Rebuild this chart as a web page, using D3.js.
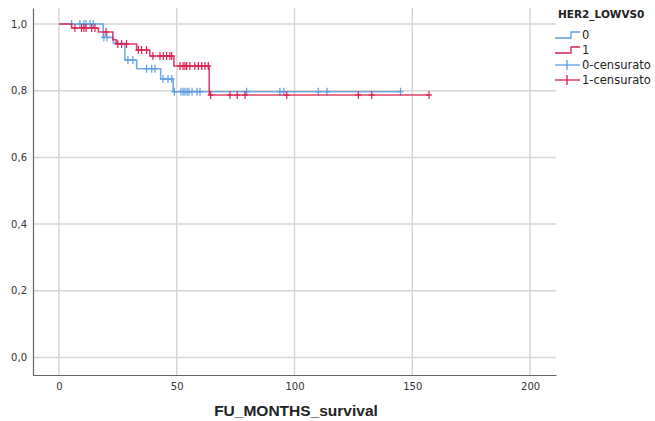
<!DOCTYPE html>
<html>
<head>
<meta charset="utf-8">
<script src="https://cdn.jsdelivr.net/npm/d3@7"></script>
<style>
  html, body { margin: 0; padding: 0; background: #fff; }
  svg { display: block; }
</style>
</head>
<body>
<svg id="chart" width="655" height="421"></svg>
<script>
// Kaplan–Meier survival by HER2_LOWVS0 group
const groups = ["0", "1"];
const censorLabels = ["0-censurato", "1-censurato"];

// Group 0: event times and survival after each step
const times0 = [0, 18.8, 23.1, 28.0, 33.0, 43.2, 48.5];
const surv0  = [1.0, 0.960, 0.942, 0.892, 0.866, 0.835, 0.797];
const end0 = 145.0;
const censor0 = [5.4, 8.9, 10.6, 11.5, 13.2, 14.6, 19.1, 20.4, 29.3, 31.4,
  37.2, 39.4, 40.8, 44.2, 46.3, 47.9, 49.0, 51.8, 52.7, 53.5, 54.4, 55.2,
  56.5, 58.6, 59.9, 79.7, 93.8, 95.5, 110.1, 113.8, 145.0];

// Group 1
const times1 = [0, 5.4, 16.8, 22.9, 24.3, 33.0, 38.6, 48.8, 63.8];
const surv1  = [1.0, 0.988, 0.976, 0.953, 0.940, 0.922, 0.904, 0.874, 0.787];
const end1 = 157.1;
const censor1 = [6.8, 9.6, 10.6, 11.5, 13.9, 15.3, 20.0, 25.0, 26.6, 28.7,
  33.7, 35.1, 37.2, 39.9, 42.9, 44.3, 45.7, 47.1, 47.9, 51.4, 52.7, 53.5,
  54.2, 55.6, 57.7, 59.2, 60.6, 62.0, 63.4, 64.4, 72.6, 75.7, 79.0, 96.7,
  127.1, 132.8, 157.1];

const xTicks = [0, 50, 100, 150, 200];
const yTicks = [0, 0.2, 0.4, 0.6, 0.8, 1.0];

const colors = ["#5b9de3", "#d9204e"];

const svg = d3.select("#chart");
const x = d3.scaleLinear().domain([-11, 211]).range([33, 556]);
const y = d3.scaleLinear().domain([-0.0525, 1.048]).range([375, 8]);

const fmt = d => d.toFixed(1).replace(".", ",");
const font = "'DejaVu Sans', Verdana, sans-serif";

// grid
const grid = svg.append("g").attr("stroke", "#d6d6d6").attr("stroke-width", 1.5);
grid.selectAll("line.v").data(xTicks).join("line")
  .attr("x1", d => x(d)).attr("x2", d => x(d))
  .attr("y1", y.range()[1]).attr("y2", y.range()[0]);
grid.selectAll("line.h").data(yTicks).join("line")
  .attr("x1", x.range()[0]).attr("x2", x.range()[1])
  .attr("y1", d => y(d)).attr("y2", d => y(d));

// axes
const xAxis = d3.axisBottom(x).tickValues(xTicks).tickSize(0).tickPadding(8).tickFormat(d3.format("d"));
const yAxis = d3.axisLeft(y).tickValues(yTicks).tickSize(0).tickPadding(6).tickFormat(fmt);
const gx = svg.append("g").attr("transform", "translate(0,375)").call(xAxis);
const gy = svg.append("g").attr("transform", "translate(33,0)").call(yAxis);
[gx, gy].forEach(g => {
  g.select(".domain").attr("stroke", "#666").attr("stroke-width", 1.2);
  g.selectAll("text").attr("font-family", font).attr("font-size", 10).attr("fill", "#333");
});

svg.append("text")
  .attr("x", 296).attr("y", 416)
  .attr("text-anchor", "middle")
  .attr("font-family", "'Liberation Sans', Arial, sans-serif").attr("font-size", 15.5).attr("font-weight", "bold")
  .attr("fill", "#222")
  .text("FU_MONTHS_survival");

// step functions
function survAt(times, surv, t) {
  let s = surv[0];
  for (let i = 0; i < times.length; i++) if (times[i] <= t) s = surv[i];
  return s;
}
const line = d3.line().x(d => x(d[0])).y(d => y(d[1])).curve(d3.curveStepAfter);

const series = [
  { times: times0, surv: surv0, end: end0, censor: censor0, color: colors[0] },
  { times: times1, surv: surv1, end: end1, censor: censor1, color: colors[1] }
];

series.forEach(s => {
  const pts = s.times.map((t, i) => [t, s.surv[i]]);
  pts.push([s.end, s.surv[s.surv.length - 1]]);
  svg.append("path").datum(pts)
    .attr("d", line)
    .attr("fill", "none")
    .attr("stroke", s.color)
    .attr("stroke-width", 1.6)
    .attr("stroke-opacity", 0.85);
  const g = svg.append("g").attr("stroke", s.color).attr("stroke-width", 1.2);
  s.censor.forEach(t => {
    const cx = x(t), cy = y(survAt(s.times, s.surv, t));
    g.append("line").attr("x1", cx).attr("x2", cx).attr("y1", cy - 4).attr("y2", cy + 4);
    g.append("line").attr("x1", cx - 3).attr("x2", cx + 3).attr("y1", cy).attr("y2", cy);
  });
});

// legend
const lg = svg.append("g").attr("font-family", font);
lg.append("text").attr("x", 558).attr("y", 18)
  .attr("font-size", 10.5).attr("font-weight", "bold").attr("fill", "#222")
  .text("HER2_LOWVS0");
const legendRows = [
  { label: groups[0], color: colors[0], kind: "step", yy: 35 },
  { label: groups[1], color: colors[1], kind: "step", yy: 50 },
  { label: censorLabels[0], color: colors[0], kind: "cross", yy: 65 },
  { label: censorLabels[1], color: colors[1], kind: "cross", yy: 80 }
];
legendRows.forEach(r => {
  if (r.kind === "step") {
    lg.append("path")
      .attr("d", `M555,${r.yy + 3}H571V${r.yy - 3}H580`)
      .attr("fill", "none").attr("stroke", r.color).attr("stroke-width", 1.3);
  } else {
    lg.append("line").attr("x1", 555).attr("x2", 580).attr("y1", r.yy).attr("y2", r.yy)
      .attr("stroke", r.color).attr("stroke-width", 1.3);
    lg.append("line").attr("x1", 567).attr("x2", 567).attr("y1", r.yy - 5).attr("y2", r.yy + 5)
      .attr("stroke", r.color).attr("stroke-width", 1.3);
  }
  lg.append("text").attr("x", 582).attr("y", r.yy + 4)
    .attr("font-size", 11.5).attr("fill", "#222").text(r.label);
});
</script>
</body>
</html>
